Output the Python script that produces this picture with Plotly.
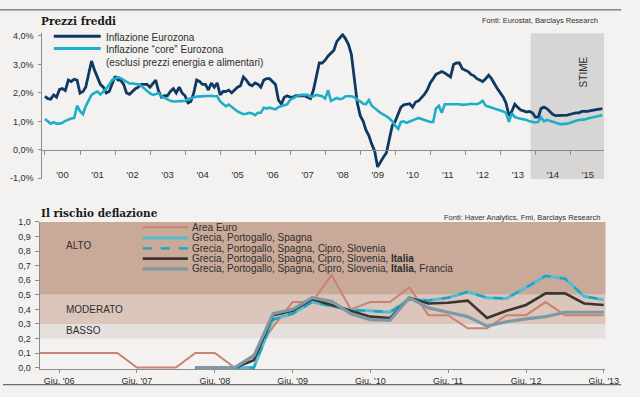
import plotly.graph_objects as go
import pandas as pd

# ---------------- data: top panel (monthly, Jan 2000 - Dec 2015) ----------------
months = pd.date_range("2000-01-01", periods=192, freq="MS")
headline = [
    1.88, 1.80, 1.78, 1.93, 1.85, 2.12, 2.15, 2.08, 2.45, 2.40, 2.48, 2.45,  # 2000
    1.99, 2.05, 2.20, 2.70, 3.12, 2.80, 2.55, 2.30, 2.20, 2.00, 2.05, 2.30,  # 2001
    2.58, 2.45, 2.45, 2.30, 2.00, 1.95, 2.05, 2.15, 2.20, 2.30, 2.30, 2.30,  # 2002
    2.20, 2.35, 2.45, 2.05, 1.85, 1.90, 1.90, 2.05, 2.15, 2.00, 2.20, 2.00,  # 2003
    1.90, 1.65, 1.70, 2.00, 2.45, 2.40, 2.30, 2.30, 2.10, 2.35, 2.20, 2.35,  # 2004
    1.93, 2.05, 2.05, 2.10, 2.00, 2.10, 2.20, 2.25, 2.56, 2.45, 2.30, 2.25,  # 2005
    2.35, 2.30, 2.20, 2.45, 2.50, 2.50, 2.40, 2.30, 1.75, 1.60, 1.85, 1.90,  # 2006
    1.85, 1.85, 1.90, 1.90, 1.90, 1.90, 1.85, 1.80, 2.10, 2.60, 3.05, 3.05,  # 2007
    3.15, 3.30, 3.40, 3.50, 3.80, 3.95, 4.05, 3.90, 3.70, 3.35, 2.50, 1.65,  # 2008
    1.20, 1.00, 0.70, 0.50, 0.20, -0.05, -0.60, -0.40, -0.25, -0.10, 0.45, 0.85,  # 2009
    1.00, 1.30, 1.50, 1.58, 1.60, 1.62, 1.50, 1.68, 1.72, 1.82, 1.95, 2.10,  # 2010
    2.35, 2.50, 2.65, 2.70, 2.75, 2.70, 2.62, 2.56, 3.00, 3.05, 3.05, 2.85,  # 2011
    2.80, 2.75, 2.65, 2.60, 2.50, 2.45, 2.40, 2.50, 2.62, 2.50, 2.30, 2.15,  # 2012
    2.00, 1.85, 1.65, 1.20, 1.35, 1.60, 1.50, 1.40, 1.37, 1.33, 1.35, 1.30,  # 2013
    1.15, 1.15, 1.45, 1.50, 1.45, 1.35, 1.25, 1.20, 1.20, 1.20, 1.20, 1.22,  # 2014
    1.25, 1.28, 1.30, 1.30, 1.35, 1.35, 1.35, 1.38, 1.40, 1.40, 1.42, 1.45,  # 2015
]
core = [
    1.08, 1.00, 0.92, 0.97, 0.92, 0.92, 0.95, 1.02, 1.07, 1.10, 1.12, 1.55,  # 2000
    1.36, 1.25, 1.53, 1.75, 1.93, 2.00, 2.05, 1.95, 2.05, 2.15, 2.30, 2.45,  # 2001
    2.50, 2.55, 2.52, 2.45, 2.38, 2.33, 2.33, 2.32, 2.30, 2.25, 2.15, 2.05,  # 2002
    1.98, 1.93, 1.95, 1.99, 1.88, 1.82, 1.76, 1.72, 1.70, 1.70, 1.72, 1.70,  # 2003
    1.72, 1.78, 1.82, 1.85, 1.87, 1.88, 1.88, 1.90, 1.90, 1.90, 1.88, 1.88,  # 2004
    1.70, 1.60, 1.53, 1.59, 1.50, 1.42, 1.35, 1.30, 1.25, 1.27, 1.30, 1.28,  # 2005
    1.22, 1.30, 1.30, 1.48, 1.45, 1.48, 1.45, 1.42, 1.50, 1.53, 1.57, 1.60,  # 2006
    1.76, 1.82, 1.88, 1.92, 1.93, 1.93, 1.93, 1.86, 1.88, 1.93, 1.90, 1.88,  # 2007
    1.80, 2.10, 1.72, 1.78, 1.82, 1.78, 1.80, 1.88, 1.88, 1.88, 1.85, 1.75,  # 2008
    1.70, 1.62, 1.60, 1.75, 1.55, 1.45, 1.38, 1.30, 1.25, 1.18, 1.10, 1.00,  # 2009
    0.85, 0.74, 0.98, 1.00, 0.95, 1.00, 1.03, 1.08, 1.12, 1.08, 1.05, 1.00,  # 2010
    0.98, 0.98, 1.45, 1.55, 1.30, 1.60, 1.60, 1.60, 1.60, 1.62, 1.60, 1.58,  # 2011
    1.58, 1.60, 1.62, 1.62, 1.60, 1.65, 1.72, 1.55, 1.52, 1.48, 1.45, 1.42,  # 2012
    1.38, 1.35, 1.30, 0.98, 1.28, 1.15, 1.12, 1.10, 1.08, 1.05, 1.00, 0.97,  # 2013
    0.96, 0.98, 1.15, 1.00, 1.05, 1.02, 0.98, 0.95, 0.92, 0.90, 0.90, 0.92,  # 2014
    0.95, 1.00, 1.02, 1.05, 1.05, 1.07, 1.10, 1.13, 1.15, 1.18, 1.20, 1.22,  # 2015
]
top_ytick_vals = [-1, 0, 1, 2, 3, 4]
top_ytick_text = ["-1,0%", "0,0%", "1,0%", "2,0%", "3,0%", "4,0%"]
forecast_start = "2013-11-13"

# ---------------- data: bottom panel (quarterly, Mar 2006 - Jun 2013) ----------------
quarters = pd.date_range("2006-03-01", "2013-06-01", freq="3MS")
area_euro = [0.10, 0.10, 0.10, 0.10, 0.10, 0.00, 0.00, 0.00,
             0.10, 0.10, 0.00, 0.09, 0.28, 0.45, 0.45, 0.635, 0.40, 0.45, 0.45, 0.55,
             0.36, 0.36, 0.27, 0.27, 0.36, 0.36, 0.45, 0.36, 0.36, 0.36]
gps = [None, None, None, None, None, None, None, None,
       0.00, 0.00, 0.00, 0.00, 0.33, 0.37, 0.45, 0.42, 0.395, 0.39, 0.38, 0.47,
       0.46, 0.48, 0.52, 0.48, 0.475, 0.55, 0.63, 0.61, 0.49, 0.465]
gps_cs = [None, None, None, None, None, None, None, None,
          0.00, 0.00, 0.00, 0.00, 0.33, 0.37, 0.45, 0.42, 0.395, 0.39, 0.38, 0.47,
          0.46, 0.48, 0.52, 0.48, 0.475, 0.55, 0.63, 0.61, 0.49, 0.465]
gps_cs_it = [None, None, None, None, None, None, None, None,
             0.00, 0.00, 0.00, 0.05, 0.36, 0.39, 0.47, 0.43, 0.39, 0.35, 0.34, 0.48,
             0.44, 0.445, 0.46, 0.34, 0.39, 0.43, 0.51, 0.51, 0.44, 0.43]
gps_cs_it_fr = [None, None, None, None, None, None, None, None,
                0.00, 0.00, 0.00, 0.08, 0.37, 0.40, 0.48, 0.455, 0.37, 0.33, 0.325, 0.48,
                0.41, 0.38, 0.35, 0.285, 0.315, 0.335, 0.35, 0.38, 0.38, 0.38]
bottom_tick_vals = ["2006-06-01", "2007-06-01", "2008-06-01", "2009-06-01",
                    "2010-06-01", "2011-06-01", "2012-06-01", "2013-06-01"]
bottom_tick_text = ["Giu. '06", "Giu. '07", "Giu. '08", "Giu. '09",
                    "Giu. '10", "Giu. '11", "Giu. '12", "Giu. '13"]
bottom_ytick_vals = [0.0, 0.1, 0.2, 0.3, 0.4, 0.5, 0.6, 0.7, 0.8, 0.9, 1.0]
bottom_ytick_text = ["0,0", "0,1", "0,2", "0,3", "0,4", "0,5", "0,6", "0,7", "0,8", "0,9", "1,0"]
bands = [(0.5, 1.0, "#c9a998", "ALTO"), (0.3, 0.5, "#dcc5ba", "MODERATO"), (0.2, 0.3, "#e5e0de", "BASSO")]

# ---------------- styling ----------------
W, H = 640, 397
BG = "#f3f2f0"
TXT = "#2e2e2e"
AX = "#8c8c8c"
FONT = "Liberation Sans"
NAVY = "#0f3863"
CYAN = "#1eaec8"
C_AE = "#c98370"
C_GPS = "#55bdd1"
C_GPS_CS = "#1aa3c6"
C_IT = "#3c3431"
C_FR = "#7d98a7"


def px(x):
    return x / W


def py(y):
    return 1 - y / H


fig = go.Figure()

# top traces
fig.add_trace(go.Scatter(x=months, y=headline, mode="lines", line=dict(color=NAVY, width=2.8),
                         xaxis="x", yaxis="y", showlegend=False, hoverinfo="skip"))
fig.add_trace(go.Scatter(x=months, y=core, mode="lines", line=dict(color=CYAN, width=2.6),
                         xaxis="x", yaxis="y", showlegend=False, hoverinfo="skip"))

# bottom traces
for vals, col, wid, dash in [
    (area_euro, C_AE, 2.0, "solid"),
    (gps, C_GPS, 3.0, "solid"),
    (gps_cs, C_GPS_CS, 2.3, "dash"),
    (gps_cs_it, C_IT, 2.6, "solid"),
    (gps_cs_it_fr, C_FR, 3.2, "solid"),
]:
    fig.add_trace(go.Scatter(x=quarters, y=vals, mode="lines",
                             line=dict(color=col, width=wid, dash=dash),
                             xaxis="x2", yaxis="y2", showlegend=False, hoverinfo="skip",
                             connectgaps=False))

shapes = []
annotations = []

# forecast shading
shapes.append(dict(type="rect", xref="x", yref="y domain", x0=forecast_start, x1="2015-12-20",
                   y0=0, y1=1, fillcolor="#d8d6d4", line=dict(width=0), layer="below"))
# risk bands
for lo, hi, col, lab in bands:
    shapes.append(dict(type="rect", xref="x2 domain", yref="y2", x0=0, x1=1, y0=lo, y1=hi,
                       fillcolor=col, line=dict(width=0), layer="below"))
annotations += [
    dict(text="ALTO", x=px(65), y=py(246), xref="paper", yref="paper", xanchor="left", yanchor="middle",
         showarrow=False, font=dict(size=10, color=TXT, family=FONT)),
    dict(text="MODERATO", x=px(65), y=py(312), xref="paper", yref="paper", xanchor="left", yanchor="middle",
         showarrow=False, font=dict(size=10, color=TXT, family=FONT)),
    dict(text="BASSO", x=px(65), y=py(333), xref="paper", yref="paper", xanchor="left", yanchor="middle",
         showarrow=False, font=dict(size=10, color=TXT, family=FONT)),
]

# rules
shapes.append(dict(type="line", xref="paper", yref="paper", x0=0, x1=px(635), y0=py(5), y1=py(5),
                   line=dict(color="#4a4a4a", width=1)))
shapes.append(dict(type="line", xref="paper", yref="paper", x0=px(3), x1=px(635), y0=py(388.5), y1=py(388.5),
                   line=dict(color="#4a4a4a", width=1)))

# titles and sources
annotations += [
    dict(text="<b>Prezzi freddi</b>", x=px(40), y=py(16), xref="paper", yref="paper",
         xanchor="left", yanchor="middle", showarrow=False,
         font=dict(size=10.5, color="#1a1a1a", family="DejaVu Serif")),
    dict(text="Fonti: Eurostat, Barclays Research", x=px(613), y=py(16), xref="paper", yref="paper",
         xanchor="right", yanchor="middle", showarrow=False, font=dict(size=7.5, color=TXT, family=FONT)),
    dict(text="<b>Il rischio deflazione</b>", x=px(40), y=py(213), xref="paper", yref="paper",
         xanchor="left", yanchor="middle", showarrow=False,
         font=dict(size=10.5, color="#1a1a1a", family="DejaVu Serif")),
    dict(text="Fonti: Haver Analytics, Fmi, Barclays Research", x=px(615), y=py(217), xref="paper", yref="paper",
         xanchor="right", yanchor="middle", showarrow=False, font=dict(size=7.5, color=TXT, family=FONT)),
    dict(text="STIME", x=px(597), y=py(68), xref="paper", yref="paper", textangle=-90,
         xanchor="center", yanchor="middle", showarrow=False, font=dict(size=10, color=TXT, family=FONT)),
]

# top legend (manual, compact)
top_legend = [(32, NAVY, "Inflazione Eurozona"),
              (44.5, CYAN, "Inflazione “core” Eurozona<br>(esclusi prezzi energia e alimentari)")]
for yy, col, txt in top_legend:
    shapes.append(dict(type="line", xref="paper", yref="paper", x0=px(55), x1=px(103), y0=py(yy), y1=py(yy),
                       line=dict(color=col, width=2.8)))
    annotations.append(dict(text=txt, x=px(106), y=py(yy - 6.5), xref="paper", yref="paper",
                            xanchor="left", yanchor="top", align="left", showarrow=False,
                            font=dict(size=10, color=TXT, family=FONT)))

# bottom legend (manual, compact)
bottom_legend = [
    (227.5, C_AE, 2.0, "solid", "Area Euro"),
    (238.3, C_GPS, 3.0, "solid", "Grecia, Portogallo, Spagna"),
    (249.0, C_GPS_CS, 2.3, "dash", "Grecia, Portogallo, Spagna, Cipro, Slovenia"),
    (259.5, C_IT, 2.6, "solid", "Grecia, Portogallo, Spagna, Cipro, Slovenia, <b>Italia</b>"),
    (270.0, C_FR, 3.2, "solid", "Grecia, Portogallo, Spagna, Cipro, Slovenia, <b>Italia</b>, Francia"),
]
for yy, col, wid, dash, txt in bottom_legend:
    shapes.append(dict(type="line", xref="paper", yref="paper", x0=px(146), x1=px(192), y0=py(yy), y1=py(yy),
                       line=dict(color=col, width=wid, dash=dash)))
    annotations.append(dict(text=txt, x=px(194), y=py(yy), xref="paper", yref="paper",
                            xanchor="left", yanchor="middle", showarrow=False,
                            font=dict(size=10, color=TXT, family=FONT)))

fig.update_layout(
    width=W, height=H, autosize=False,
    margin=dict(l=0, r=0, t=0, b=0),
    paper_bgcolor=BG, plot_bgcolor="rgba(0,0,0,0)",
    font=dict(family=FONT, color=TXT, size=9),
    showlegend=False,
    shapes=shapes, annotations=annotations,
    xaxis=dict(type="date", domain=[px(43.3), px(617.7)], range=["1999-12-05", "2015-12-20"],
               anchor="free", position=py(148.3), showline=True, linecolor=AX, linewidth=1,
               ticks="outside", ticklen=4, tickcolor=AX, tickwidth=1,
               dtick="M12", tick0="2000-01-01", ticklabelmode="period", tickformat="'%y",
               ticklabelstandoff=12, tickfont=dict(size=9.5, color=TXT),
               showgrid=False, zeroline=False, fixedrange=True),
    yaxis=dict(domain=[py(178), py(29)], range=[-1.024, 4.093], anchor="x",
               tickvals=top_ytick_vals, ticktext=top_ytick_text,
               showline=True, linecolor=AX, linewidth=1, ticks="outside", ticklen=3, tickcolor=AX,
               ticklabelstandoff=3, tickfont=dict(size=9, color=TXT),
               showgrid=False, zeroline=False, fixedrange=True),
    xaxis2=dict(type="date", domain=[px(40.5), px(619)], range=["2006-03-01", "2013-06-09"],
                anchor="y2", tickvals=bottom_tick_vals, ticktext=bottom_tick_text,
                showline=True, linecolor=AX, linewidth=1, ticks="outside", ticklen=3, tickcolor=AX,
                tickfont=dict(size=9, color=TXT), showgrid=False, zeroline=False, fixedrange=True),
    yaxis2=dict(domain=[py(372.8), py(222)], range=[-0.012, 1.0], anchor="x2",
                tickvals=bottom_ytick_vals, ticktext=bottom_ytick_text,
                showline=True, linecolor=AX, linewidth=1, ticks="outside", ticklen=4, tickcolor=AX,
                ticklabelstandoff=2, tickfont=dict(size=9, color=TXT),
                showgrid=False, zeroline=False, fixedrange=True),
)

fig.write_html(
    "out.html",
    config={"displayModeBar": False, "responsive": False},
    post_script=("document.documentElement.style.overflow='hidden';"
                 "document.body.style.overflow='hidden';"
                 "document.body.style.margin='0';"
                 "document.body.style.background='" + BG + "';"),
)
